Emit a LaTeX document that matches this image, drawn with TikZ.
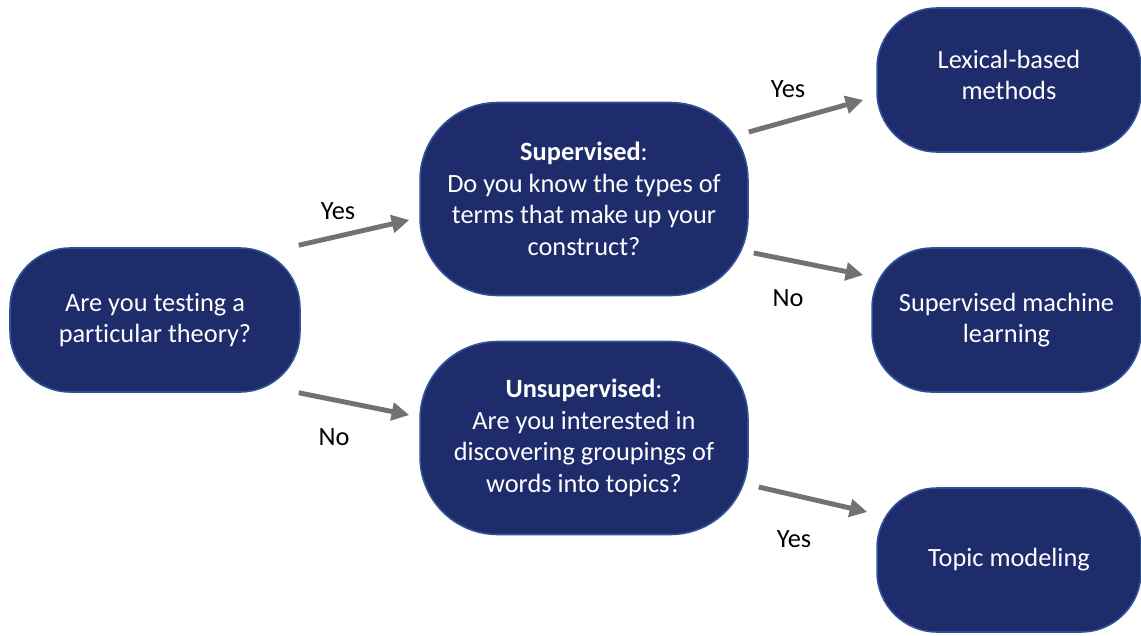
\documentclass[tikz,border=0pt]{standalone}
\usepackage{fontspec}
\setmainfont{Carlito}[Ligatures=CommonOff]
\usepackage{xcolor}
\usetikzlibrary{calc,arrows.meta}
\definecolor{boxblue}{HTML}{1F2C6B}
\definecolor{edgeblue}{HTML}{2F5597}
\definecolor{arrowgray}{HTML}{767171}

\begin{document}
\begin{tikzpicture}[x=0.02cm,y=-0.02cm,
    every node/.style={font=\fontsize{15}{18}\selectfont},
    box/.style={draw=edgeblue,line width=0.9pt,fill=boxblue,text=white,align=center,
        rounded corners=1.2cm,minimum width=5.8cm,minimum height=2.88cm},
    bigbox/.style={box,rounded corners=1.55cm,minimum width=6.56cm,minimum height=3.86cm},
    arr/.style={draw=arrowgray,line width=2.8pt,-{Triangle[length=10pt,width=10pt]}}]

    \useasboundingbox (0,0) rectangle (1141,635);

    % question boxes
    \node[box] (nTheory) at (155,320) {Are you testing a\\particular theory?};
    \node[bigbox] (nSup) at (584,199) {\textbf{Supervised}:\\Do you know the types of\\terms that make up your\\construct?};
    \node[bigbox] (nUns) at (584,438) {\textbf{Unsupervised}:\\Are you interested in\\discovering groupings of\\words into topics?};

    % method boxes
    \node[box,minimum width=5.28cm] (nLex) at (1009,80) {Lexical-based\\methods\\[-12pt]\mbox{}};
    \node[box,minimum width=5.38cm] (nSML) at (1006.5,320) {Supervised machine\\learning};
    \node[box,minimum width=5.28cm] (nTopic) at (1009,560) {Topic modeling};

    % arrows
    \draw[arr] ($(nTheory.north east)+(-2,-2)$) -- ($(nSup.west)+(-10,21)$);
    \draw[arr] ($(nTheory.south east)+(-2,0)$) -- ($(nUns.west)+(-10,-23)$);
    \draw[arr] ($(nSup.east)+(0,-67)$) -- ($(nLex.west)+(-13,20)$);
    \draw[arr] ($(nSup.east)+(5,54)$) -- ($(nSML.west)+(-8,-45)$);
    \draw[arr] ($(nUns.east)+(10,49)$) -- ($(nTopic.west)+(-9,-48)$);

    % labels
    \node (lYes1) at (338,211) {Yes};
    \node (lNo1) at (334,437) {No};
    \node (lYes2) at (788,89) {Yes};
    \node (lNo2) at (788,298) {No};
    \node (lYes3) at (794,539) {Yes};

\end{tikzpicture}
\end{document}
